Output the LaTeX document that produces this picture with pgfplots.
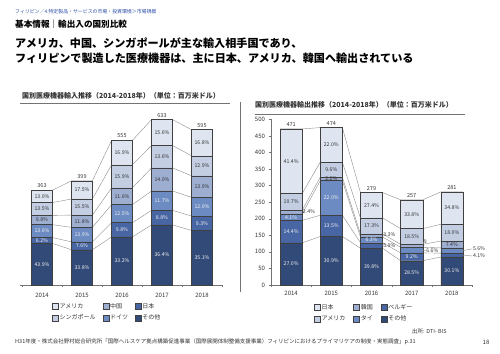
\documentclass[border=0pt]{standalone}
\usepackage{fontspec}
\setmainfont{Noto Sans CJK JP}
\usepackage{pgfplots}
\usepackage{pgfplotstable}
\pgfplotsset{compat=1.18}
\newcommand\fs[1]{\fontsize{#1}{#1}\selectfont}

\definecolor{c1}{HTML}{DFE5F0}
\definecolor{c2}{HTML}{C3CEE3}
\definecolor{c3}{HTML}{9DAED0}
\definecolor{c4}{HTML}{6D8BC3}
\definecolor{c5}{HTML}{4866A3}
\definecolor{c6}{HTML}{324A77}
\definecolor{bord}{HTML}{404040}
\definecolor{conn}{HTML}{8C8C8C}
\definecolor{crumb}{HTML}{2D4FA8}
\definecolor{txt}{HTML}{333333}
\definecolor{wtxt}{HTML}{F2F2F2}

% Imports: bottom->top: other, Japan, Germany, China, Singapore, USA (percent)
\pgfplotstableread{
x T O J G C S A
0 363 43.9 6.2 13.6 9.8 13.5 13.0
1 399 33.8 7.6 13.9 11.8 15.5 17.5
2 555 33.2 9.8 12.5 11.6 15.9 16.9
3 633 36.4 8.8 11.7 14.0 13.6 15.6
4 595 35.1 9.3 12.0 13.9 12.9 16.8
}\Ldata
\pgfplotstableread{
x T O J G C S A
-0.26 363 43.9 6.2 13.6 9.8 13.5 13.0
0.26 363 43.9 6.2 13.6 9.8 13.5 13.0
0.74 399 33.8 7.6 13.9 11.8 15.5 17.5
1.26 399 33.8 7.6 13.9 11.8 15.5 17.5
1.74 555 33.2 9.8 12.5 11.6 15.9 16.9
2.26 555 33.2 9.8 12.5 11.6 15.9 16.9
2.74 633 36.4 8.8 11.7 14.0 13.6 15.6
3.26 633 36.4 8.8 11.7 14.0 13.6 15.6
3.74 595 35.1 9.3 12.0 13.9 12.9 16.8
4.26 595 35.1 9.3 12.0 13.9 12.9 16.8
}\Lconn

% Exports: bottom->top: other, Belgium, Thailand, Korea, USA, Japan (percent)
\pgfplotstableread{
x T O B H K A J
0 471 27.0 14.4 4.1 2.4 10.7 41.4
1 474 30.9 13.5 22.0 2.2 9.6 22.0
2 279 39.8 5.9 6.3 3.3 17.3 27.4
3 257 28.5 9.2 6.6 3.4 18.5 33.8
4 281 30.1 4.1 5.6 7.4 18.0 34.8
}\Rdata
\pgfplotstableread{
x T O B H K A J
-0.275 471 27.0 14.4 4.1 2.4 10.7 41.4
0.275 471 27.0 14.4 4.1 2.4 10.7 41.4
0.725 474 30.9 13.5 22.0 2.2 9.6 22.0
1.275 474 30.9 13.5 22.0 2.2 9.6 22.0
1.725 279 39.8 5.9 6.3 3.3 17.3 27.4
2.275 279 39.8 5.9 6.3 3.3 17.3 27.4
2.725 257 28.5 9.2 6.6 3.4 18.5 33.8
3.275 257 28.5 9.2 6.6 3.4 18.5 33.8
3.725 281 30.1 4.1 5.6 7.4 18.0 34.8
4.275 281 30.1 4.1 5.6 7.4 18.0 34.8
}\Rconn

\pgfplotsset{
  /pgf/number format/assume math mode=true,
  Lbase/.style={at={(20pt,68pt)}, anchor=south west, scale only axis,
    width=202pt, height=166pt, xmin=-0.55, xmax=4.5, ymin=0, ymax=636, clip=false},
  Rbase/.style={at={(271pt,68pt)}, anchor=south west, scale only axis,
    width=201pt, height=165.7pt, xmin=-0.5, xmax=4.5, ymin=0, ymax=500, clip=false},
  myseg/.style={fill=#1, draw=bord, line width=0.45pt},
  mycl/.style={draw=conn, line width=0.4pt, mark=none, forget plot},
  mypct/.style={draw=none, mark=none, forget plot, point meta=explicit,
    nodes near coords={\pgfmathprintnumber[fixed,fixed zerofill,precision=1]{\pgfplotspointmeta}\%},
    every node near coord/.append style={anchor=center, inner sep=0pt, font=\fs{5.2}, text=#1}},
  mysym/.style={draw=none, mark=none, forget plot, point meta=explicit symbolic, nodes near coords,
    every node near coord/.append style={anchor=center, inner sep=0pt, font=\fs{5.2}, text=#1}},
  mysymw/.style={draw=none, mark=none, forget plot, point meta=explicit symbolic, nodes near coords,
    every node near coord/.append style={anchor=west, inner sep=0pt, font=\fs{5.2}, text=txt}},
  mytot/.style={draw=none, mark=none, forget plot, point meta=explicit,
    nodes near coords={\pgfmathprintnumber[fixed,precision=0]{\pgfplotspointmeta}},
    every node near coord/.append style={anchor=south, inner sep=0pt, yshift=2.2pt, font=\fs{5.5}, text=txt}},
}

\begin{document}
\begin{tikzpicture}[x=1pt,y=1pt]
\path[use as bounding box] (0,0) rectangle (500,353);

\node[anchor=west, inner sep=0pt, text=crumb, font=\fs{4.9}] at (15,341.5) {フィリピン／4.特定製品・サービスの市場・投資環境＞市場規模};
\node[anchor=west, inner sep=0pt, text=black, font={\fs{8.6}\bfseries}] at (15,329) {基本情報｜輸出入の国別比較};
\node[anchor=west, inner sep=0pt, text=black, font={\fs{11.1}\bfseries}] at (15,310.3) {アメリカ、中国、シンガポールが主な輸入相手国であり、};
\node[anchor=west, inner sep=0pt, text=black, font={\fs{11.1}\bfseries}] at (15,294.7) {フィリピンで製造した医療機器は、主に日本、アメリカ、韓国へ輸出されている};

\node[anchor=west, inner sep=0pt, text=txt, font={\fs{7}\bfseries}] at (22,257) {国別医療機器輸入推移（2014-2018年）（単位：百万米ドル）};
\draw[black!55, line width=0.6pt] (20,250) -- (230,250);
\node[anchor=west, inner sep=0pt, text=txt, font={\fs{7}\bfseries}] at (255,248) {国別医療機器輸出推移（2014-2018年）（単位：百万米ドル）};
\draw[black!55, line width=0.6pt] (255,239) -- (465,239);
\draw[black!55, line width=0.5pt] (240,251) -- (240,61);

% ---------------- Left chart: connectors + legend
\begin{axis}[Lbase, hide axis,
  legend columns=3, legend cell align=left,
  legend image code/.code={\draw[#1] (0pt,-3pt) rectangle (6pt,3pt);},
  legend style={at={(0.158,-0.102)}, anchor=north west, draw=none, fill=none,
    inner sep=0pt, font=\fs{6}, text=txt, row sep=3pt, nodes={inner sep=1pt},
    /tikz/every even column/.append style={column sep=6pt}}]
\addplot[mycl] table[x=x, y expr={\thisrow{T}*\thisrow{O}/100}]{\Lconn};
\addplot[mycl] table[x=x, y expr={\thisrow{T}*(\thisrow{O}+\thisrow{J})/100}]{\Lconn};
\addplot[mycl] table[x=x, y expr={\thisrow{T}*(\thisrow{O}+\thisrow{J}+\thisrow{G})/100}]{\Lconn};
\addplot[mycl] table[x=x, y expr={\thisrow{T}*(\thisrow{O}+\thisrow{J}+\thisrow{G}+\thisrow{C})/100}]{\Lconn};
\addplot[mycl] table[x=x, y expr={\thisrow{T}*(\thisrow{O}+\thisrow{J}+\thisrow{G}+\thisrow{C}+\thisrow{S})/100}]{\Lconn};
\addplot[mycl] table[x=x, y expr={\thisrow{T}*(\thisrow{O}+\thisrow{J}+\thisrow{G}+\thisrow{C}+\thisrow{S}+\thisrow{A})/100}]{\Lconn};
\addlegendimage{myseg=c1}\addlegendentry{アメリカ}
\addlegendimage{myseg=c3}\addlegendentry{中国}
\addlegendimage{myseg=c5}\addlegendentry{日本}
\addlegendimage{myseg=c2}\addlegendentry{シンガポール}
\addlegendimage{myseg=c4}\addlegendentry{ドイツ}
\addlegendimage{myseg=c6}\addlegendentry{その他}
\end{axis}

% ---------------- Left chart: bars
\begin{axis}[Lbase, ybar stacked, bar width=0.52,
  axis x line*=bottom, axis y line=none,
  axis line style={draw=black!55, line width=0.6pt},
  xtick={0,1,2,3,4}, xticklabels={2014,2015,2016,2017,2018},
  minor xtick={-0.5,0.5,1.5,2.5,3.5,4.5},
  tick align=outside, major x tick style={draw=none},
  minor x tick style={draw=black!55}, minor tick length=2pt,
  xticklabel style={font=\fs{6}, text=txt}]
\addplot[myseg=c6] table[x=x, y expr={\thisrow{T}*\thisrow{O}/100}]{\Ldata};
\addplot[myseg=c5] table[x=x, y expr={\thisrow{T}*\thisrow{J}/100}]{\Ldata};
\addplot[myseg=c4] table[x=x, y expr={\thisrow{T}*\thisrow{G}/100}]{\Ldata};
\addplot[myseg=c3] table[x=x, y expr={\thisrow{T}*\thisrow{C}/100}]{\Ldata};
\addplot[myseg=c2] table[x=x, y expr={\thisrow{T}*\thisrow{S}/100}]{\Ldata};
\addplot[myseg=c1] table[x=x, y expr={\thisrow{T}*\thisrow{A}/100}]{\Ldata};
\end{axis}

% ---------------- Left chart: labels
\begin{axis}[Lbase, hide axis]
\addplot[mypct=wtxt] table[x=x, y expr={\thisrow{T}*\thisrow{O}/200}, meta=O]{\Ldata};
\addplot[mypct=wtxt] table[x=x, y expr={\thisrow{T}*(\thisrow{O}+\thisrow{J}/2)/100}, meta=J]{\Ldata};
\addplot[mypct=wtxt] table[x=x, y expr={\thisrow{T}*(\thisrow{O}+\thisrow{J}+\thisrow{G}/2)/100}, meta=G]{\Ldata};
\addplot[mypct=txt] table[x=x, y expr={\thisrow{T}*(\thisrow{O}+\thisrow{J}+\thisrow{G}+\thisrow{C}/2)/100}, meta=C]{\Ldata};
\addplot[mypct=txt] table[x=x, y expr={\thisrow{T}*(\thisrow{O}+\thisrow{J}+\thisrow{G}+\thisrow{C}+\thisrow{S}/2)/100}, meta=S]{\Ldata};
\addplot[mypct=txt] table[x=x, y expr={\thisrow{T}*(\thisrow{O}+\thisrow{J}+\thisrow{G}+\thisrow{C}+\thisrow{S}+\thisrow{A}/2)/100}, meta=A]{\Ldata};
\addplot[mytot] table[x=x, y=T, meta=T]{\Ldata};
\end{axis}

% ---------------- Right chart: connectors + legend
\begin{axis}[Rbase, hide axis,
  legend columns=3, legend cell align=left,
  legend image code/.code={\draw[#1] (0pt,-3pt) rectangle (6pt,3pt);},
  legend style={at={(0.214,-0.109)}, anchor=north west, draw=none, fill=none,
    inner sep=0pt, font=\fs{6}, text=txt, row sep=3pt, nodes={inner sep=1pt},
    /tikz/every even column/.append style={column sep=7pt}}]
\addplot[mycl] table[x=x, y expr={\thisrow{T}*\thisrow{O}/100}]{\Rconn};
\addplot[mycl] table[x=x, y expr={\thisrow{T}*(\thisrow{O}+\thisrow{B})/100}]{\Rconn};
\addplot[mycl] table[x=x, y expr={\thisrow{T}*(\thisrow{O}+\thisrow{B}+\thisrow{H})/100}]{\Rconn};
\addplot[mycl] table[x=x, y expr={\thisrow{T}*(\thisrow{O}+\thisrow{B}+\thisrow{H}+\thisrow{K})/100}]{\Rconn};
\addplot[mycl] table[x=x, y expr={\thisrow{T}*(\thisrow{O}+\thisrow{B}+\thisrow{H}+\thisrow{K}+\thisrow{A})/100}]{\Rconn};
\addplot[mycl] table[x=x, y expr={\thisrow{T}*(\thisrow{O}+\thisrow{B}+\thisrow{H}+\thisrow{K}+\thisrow{A}+\thisrow{J})/100}]{\Rconn};
\addlegendimage{myseg=c1}\addlegendentry{日本}
\addlegendimage{myseg=c3}\addlegendentry{韓国}
\addlegendimage{myseg=c5}\addlegendentry{ベルギー}
\addlegendimage{myseg=c2}\addlegendentry{アメリカ}
\addlegendimage{myseg=c4}\addlegendentry{タイ}
\addlegendimage{myseg=c6}\addlegendentry{その他}
\end{axis}

% ---------------- Right chart: bars
\begin{axis}[Rbase, ybar stacked, bar width=0.55,
  axis x line*=bottom, axis y line*=left,
  axis line style={draw=black!55, line width=0.6pt},
  xtick={0,1,2,3,4}, xticklabels={2014,2015,2016,2017,2018},
  minor xtick={-0.5,0.5,1.5,2.5,3.5,4.5},
  ytick={0,50,...,500},
  tick align=outside, major x tick style={draw=none},
  minor x tick style={draw=black!55}, minor tick length=2pt,
  major y tick style={draw=black!55}, major tick length=2.5pt,
  xticklabel style={font=\fs{6}, text=txt},
  yticklabel style={font=\fs{6}, text=txt}]
\addplot[myseg=c6] table[x=x, y expr={\thisrow{T}*\thisrow{O}/100}]{\Rdata};
\addplot[myseg=c5] table[x=x, y expr={\thisrow{T}*\thisrow{B}/100}]{\Rdata};
\addplot[myseg=c4] table[x=x, y expr={\thisrow{T}*\thisrow{H}/100}]{\Rdata};
\addplot[myseg=c3] table[x=x, y expr={\thisrow{T}*\thisrow{K}/100}]{\Rdata};
\addplot[myseg=c2] table[x=x, y expr={\thisrow{T}*\thisrow{A}/100}]{\Rdata};
\addplot[myseg=c1] table[x=x, y expr={\thisrow{T}*\thisrow{J}/100}]{\Rdata};
\end{axis}

% ---------------- Right chart: labels
\begin{axis}[Rbase, hide axis]
\addplot[mysym=txt] coordinates {(0,373.5)[41.4\%] (1,422.8)[22.0\%] (2,240.8)[27.4\%] (3,213.6)[33.8\%] (4,232.1)[34.8\%]};
\addplot[mysym=txt] coordinates {(0,250.8)[10.7\%] (1,347.9)[9.6\%] (2,178.4)[17.3\%] (3,146.4)[18.5\%] (4,157.9)[18.0\%]};
\addplot[mysym=txt] coordinates {(1,320.0)[2.2\%] (4,122.2)[7.4\%]};
\addplot[mysym=wtxt] coordinates {(0,204.6)[4.1\%] (1,262.6)[22.0\%] (2,136.3)[6.3\%]};
\addplot[mysym=wtxt] coordinates {(0,161.1)[14.4\%] (1,178.5)[13.5\%] (3,85.1)[9.2\%]};
\addplot[mysym=wtxt] coordinates {(0,63.6)[27.0\%] (1,73.2)[30.9\%] (2,55.5)[39.8\%] (3,36.6)[28.5\%] (4,42.3)[30.1\%]};
\addplot[mysymw] coordinates {(0.29,220)[2.4\%] (2.29,151)[3.3\%] (2.29,118)[5.9\%] (3.30,130)[9] (3.36,103)[6.6\%] (4.52,109)[5.6\%] (4.52,87.5)[4.1\%]};
\addplot[draw=conn, line width=0.4pt, mark=none, forget plot] coordinates {(3.275,121) (3.30,130)};
\addplot[draw=conn, line width=0.4pt, mark=none, forget plot] coordinates {(3.275,105.4) (3.35,103)};
\addplot[draw=conn, line width=0.4pt, mark=none, forget plot] coordinates {(4.275,104.0) (4.51,109)};
\addplot[draw=conn, line width=0.4pt, mark=none, forget plot] coordinates {(4.275,90.3) (4.51,87.5)};
\addplot[mytot] table[x=x, y=T, meta=T]{\Rdata};
\end{axis}

\node[anchor=west, inner sep=0pt, text=txt, font=\fs{5.5}] at (412,22) {出所: DTI- BIS};
\node[anchor=west, inner sep=0pt, text=txt, font=\fs{5.5}] at (15,11) {H31年度・株式会社野村総合研究所「国際ヘルスケア拠点構築促進事業（国際展開体制整備支援事業）フィリピンにおけるプライマリケアの制度・実態調査」p.31};
\node[anchor=center, inner sep=0pt, text=txt, font=\fs{6}] at (486,11) {18};
\end{tikzpicture}
\end{document}
